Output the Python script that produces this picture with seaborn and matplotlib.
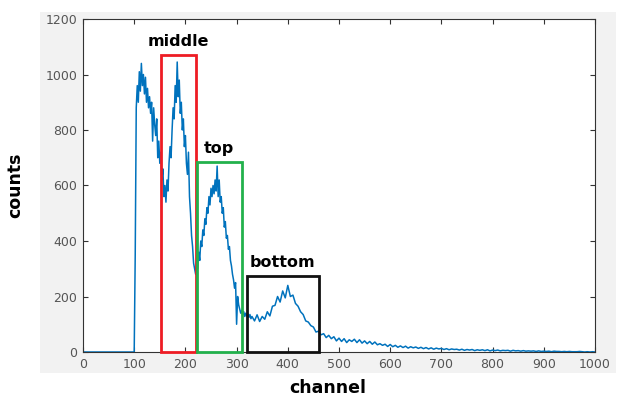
import numpy as np
import pandas as pd
import matplotlib
matplotlib.use("Agg")
import matplotlib.pyplot as plt
from matplotlib.patches import Rectangle
import seaborn as sns

# ---------------- data ----------------
# flat region before the spectrum starts (channels 0..98, step 2)
ch_flat = np.arange(0, 100, 2)
counts_flat = [0] * len(ch_flat)

# peak region, channels 100..328 step 2
ch_peak = np.arange(100, 330, 2)
counts_peak = [
    0, 350, 880, 960, 900, 1010, 940, 1040, 960, 1000,        # 100-118
    930, 990, 900, 950, 880, 920, 860, 900, 760, 880,         # 120-138
    820, 780, 840, 700, 760, 680, 720, 620, 660, 560,         # 140-158
    600, 540, 620, 580, 680, 740, 700, 800, 880, 840,         # 160-178
    960, 900, 1045, 920, 980, 860, 900, 800, 840, 740,        # 180-198
    780, 680, 640, 720, 560, 500, 420, 380, 320, 300,         # 200-218
    280, 330, 300, 360, 330, 400, 380, 440, 420, 480,         # 220-238
    460, 520, 500, 560, 530, 590, 560, 600, 570, 620,         # 240-258
    580, 670, 560, 620, 540, 560, 500, 520, 450, 470,         # 260-278
    410, 420, 370, 380, 330, 310, 280, 260, 230, 250,         # 280-298
    100, 200, 170, 155, 140, 150, 135, 145, 128, 140,         # 300-318
    130, 138, 125, 135, 120,                                  # 320-328
]

# tail region, channels 330..1000 step 5
ch_tail = np.arange(330, 1001, 5)
counts_tail = [
    128, 112, 134, 110, 128, 118, 145, 130, 165, 168,         # 330-375
    200, 180, 220, 195, 240, 200, 205, 175, 165, 145,         # 380-425
    135, 112, 108, 95, 90, 72, 75, 62, 66, 52,                # 430-475
    60, 48, 55, 40, 50, 38, 48, 34, 44, 38,                   # 480-525
    46, 34, 44, 32, 40, 30, 38, 28, 36, 26,                   # 530-575
    30, 24, 28, 20, 27, 19, 24, 17, 22, 16,                   # 580-625
    21, 14, 19, 15, 18, 13, 17, 12, 16, 11,                   # 630-675
    15, 10, 14, 11, 13, 9, 12, 8, 11, 9,                      # 680-725
    10, 7, 10, 6, 9, 7, 9, 5, 8, 6,                           # 730-775
    8, 5, 8, 4, 7, 5, 7, 4, 6, 5,                             # 780-825
    6, 3, 6, 4, 5, 3, 5, 3, 4, 3,                             # 830-875
    4, 2, 4, 2, 3, 2, 3, 1, 3, 2,                             # 880-925
    2, 1, 2, 1, 2, 1, 1, 1, 2, 1,                             # 930-975
    0, 1, 0, 1, 0,                                            # 980-1000
]

# annotation boxes (channel start, channel end, box top in counts)
box_labels = ["middle", "top", "bottom"]
box_start = [152, 222, 321]
box_end = [220, 310, 460]
box_top = [1070, 683, 275]
box_colors = ["#ee1c24", "#22b14c", "#111111"]

x_ticks = list(range(0, 1001, 100))
y_ticks = list(range(0, 1201, 200))

df = pd.DataFrame({
    "channel": np.concatenate([ch_flat, ch_peak, ch_tail]),
    "counts": np.concatenate([counts_flat, counts_peak, counts_tail]),
})

# ---------------- plot ----------------
sns.set_theme(style="white")
plt.rcParams["font.family"] = ["DejaVu Sans"]

fig = plt.figure(figsize=(6.18, 3.99), dpi=100)
fig.patch.set_facecolor("white")
# light gray panel behind the axes (MATLAB style figure)
panel = Rectangle((40 / 618, 26 / 399), 576 / 618, 361 / 399,
                  transform=fig.transFigure, facecolor="#f2f2f2",
                  edgecolor="none", zorder=-10)
fig.patches.append(panel)

ax = fig.add_axes([83 / 618, 47 / 399, 512 / 618, 333 / 399])
ax.set_zorder(1)
ax.set_facecolor("white")

sns.lineplot(data=df, x="channel", y="counts", ax=ax, color="#0072BD",
             linewidth=1.1, estimator=None)

for lab, s, e, t, c in zip(box_labels, box_start, box_end, box_top, box_colors):
    ax.add_patch(Rectangle((s, 0), e - s, t, fill=False, edgecolor=c,
                           linewidth=2.0, zorder=3, clip_on=False))
    ax.text((s + e) / 2, t + 22, lab, ha="center", va="bottom",
            fontsize=11.5, fontweight="bold", color="black")

ax.set_xlim(0, 1000)
ax.set_ylim(0, 1200)
ax.set_xticks(x_ticks)
ax.set_yticks(y_ticks)
ax.tick_params(axis="both", direction="in", length=3.5, width=0.8,
               colors="#333333", labelcolor="#555555", labelsize=9,
               top=True, right=True, bottom=True, left=True, pad=4)
for sp in ax.spines.values():
    sp.set_color("#333333")
    sp.set_linewidth(0.8)

ax.set_xlabel("channel", fontsize=12.5, fontweight="bold", color="black")
ax.set_ylabel("counts", fontsize=12.5, fontweight="bold", color="black")
ax.xaxis.set_label_coords(0.478, -0.082)
ax.yaxis.set_label_coords(-0.115, 0.5)

fig.savefig("out.png", dpi=100)
